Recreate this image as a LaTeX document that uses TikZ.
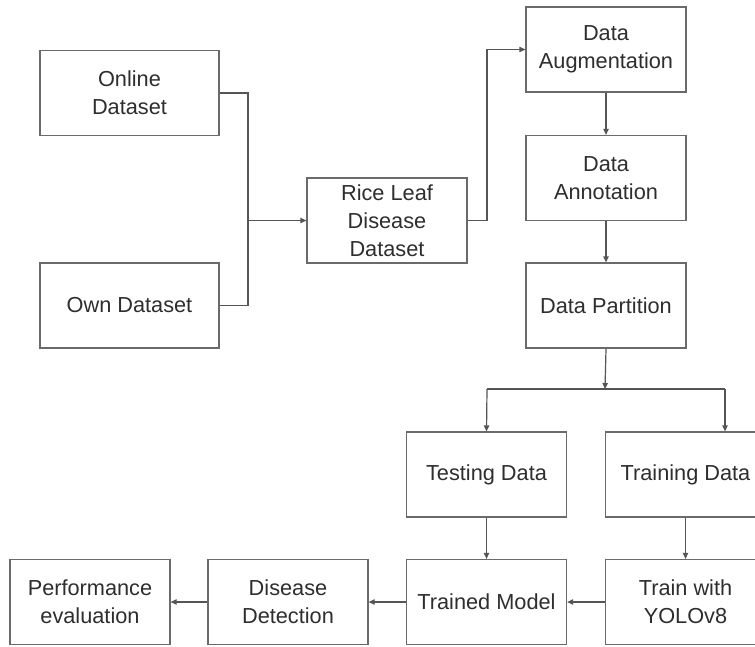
\documentclass[tikz,border=0pt]{standalone}
\usepackage{fontspec}
\setmainfont{Liberation Sans}
\usetikzlibrary{arrows.meta}
\definecolor{boxgray}{HTML}{6A6A6A}
\definecolor{linegray}{HTML}{555555}
\definecolor{txtgray}{HTML}{2E2E2E}
\begin{document}
\begin{tikzpicture}[x=0.75pt,y=-0.75pt,
  box/.style={draw=boxgray, line width=0.9pt, minimum width=120pt, minimum height=63.75pt,
    inner sep=0pt, align=center, font=\fontsize{16.3}{21}\selectfont, text=txtgray},
  widebox/.style={box, minimum width=134.25pt},
  conn/.style={draw=linegray, line width=0.9pt},
  arr/.style={conn, -{Triangle[length=4.5pt,width=4pt]}}]
\clip (0,0) rectangle (755,646);
\fill[white] (0,0) rectangle (755,646);

\node[widebox] (online) at (129.5,93) {Online\\Dataset};
\node[widebox] (own) at (129.5,305.5) {Own Dataset};
\node[box] (rice) at (387,220.5) {Rice Leaf\\Disease\\Dataset};
\node[box] (aug) at (606,49.5) {Data\\Augmentation};
\node[box] (ann) at (606,178) {Data\\Annotation};
\node[box] (part) at (606,305.5) {Data Partition};
\node[box] (test) at (486.5,474.5) {Testing Data};
\node[box] (train) at (685.5,474.5) {Training Data};
\node[box] (model) at (486.5,602) {Trained Model};
\node[box] (yolo) at (685.5,602) {Train with\\YOLOv8};
\node[box] (detect) at (288,602) {Disease\\Detection};
\node[box] (perf) at (90,602) {Performance\\evaluation};

\coordinate (j) at (248,220.5);
\coordinate (r) at (487,220.5);
\coordinate (s) at (605,389);
\coordinate (sl) at (487,389);
\coordinate (sr) at (725,389);

\draw[conn] (online.east) -| (j);
\draw[conn] (own.east) -| (j);
\draw[arr] (j) -- (rice.west);
\draw[arr] (rice.east) -- (r) |- (aug.west);
\draw[arr] (aug.south) -- (ann.north);
\draw[arr] (ann.south) -- (part.north);
\draw[arr] (part.south) -- (s);
\draw[conn] (sl) -- (sr);
\draw[arr] (sl) -- (test.north);
\draw[arr] (sr) -- (sr |- train.north);
\draw[arr] (test.south) -- (model.north);
\draw[arr] (train.south) -- (yolo.north);
\draw[arr] (yolo.west) -- (model.east);
\draw[arr] (model.west) -- (detect.east);
\draw[arr] (detect.west) -- (perf.east);
\end{tikzpicture}
\end{document}
